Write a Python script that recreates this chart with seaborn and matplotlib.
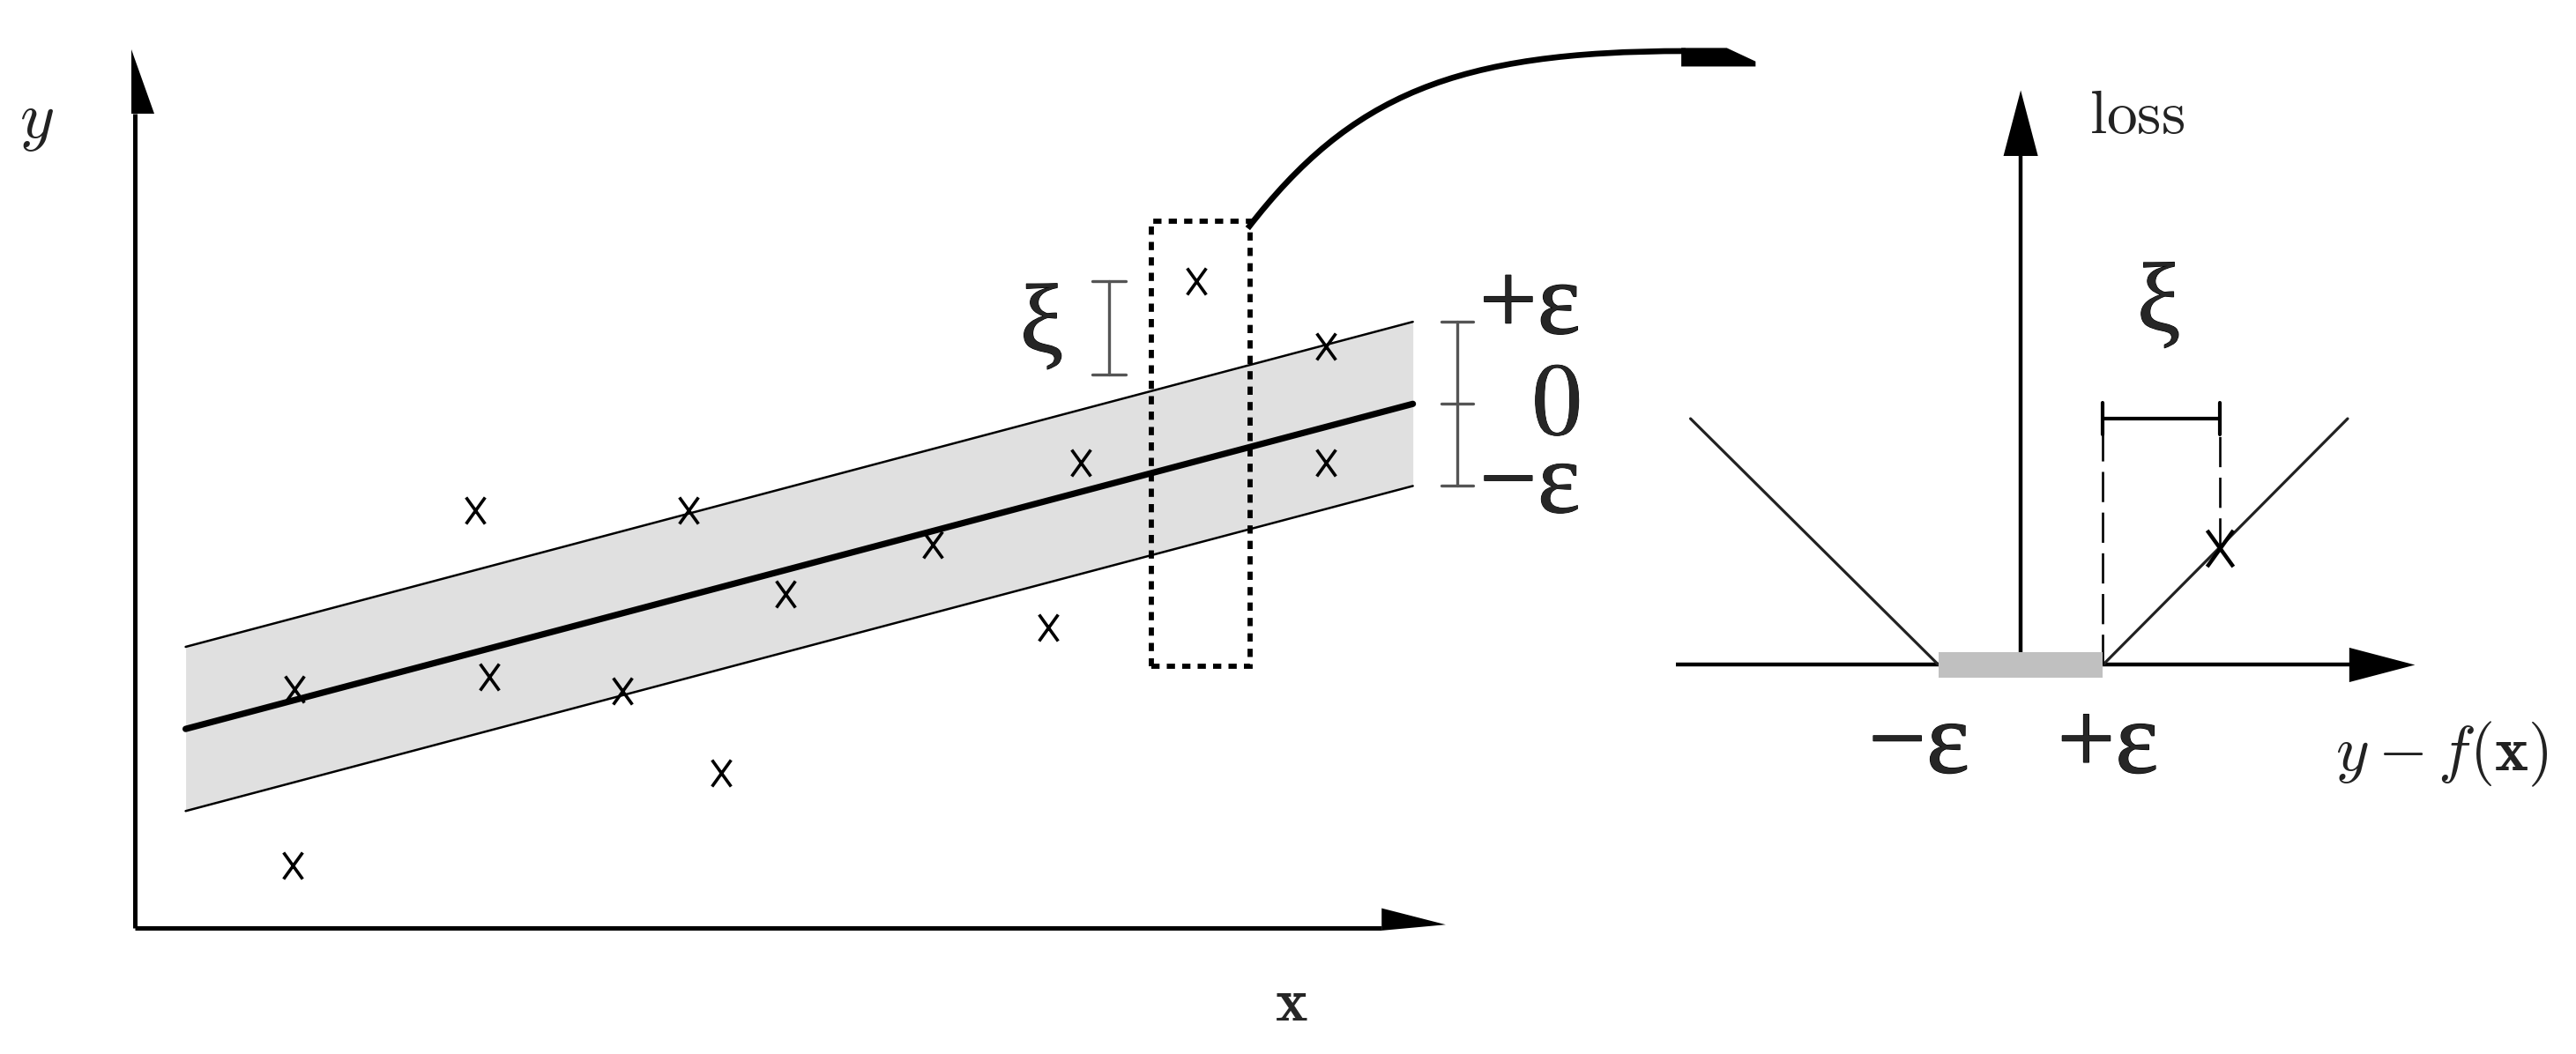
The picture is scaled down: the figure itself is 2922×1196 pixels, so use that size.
import numpy as np
import pandas as pd
import matplotlib
matplotlib.use("Agg")
import matplotlib.pyplot as plt
import matplotlib.patheffects as pe
import seaborn as sns
from matplotlib.path import Path
from matplotlib.patches import Polygon, PathPatch, Rectangle

# ---------------- data : left panel (epsilon-tube regression) ----------------
pts_x = [9.7, 20.7, 21.6, 29.7, 33.7, 39.6, 48.6, 35.7, 55.6, 57.6, 64.6, 72.5, 72.5, 9.6]
pts_y = [14.5, 25.4, 15.3, 14.4, 25.4, 20.3, 23.3, 9.4, 18.3, 28.3, 39.4, 35.4, 28.3, 3.8]
fit_x = [3.1, 77.8]
fit_y = [12.1, 31.9]
tube_upper = [17.1, 36.9]
tube_lower = [7.1, 26.9]
axis_x_end = 79.8
axis_y_end = 53.5
# ---------------- data : right panel (epsilon-insensitive loss) ----------------
loss_left_x = [-4.02, -1.0]
loss_left_y = [3.0, 0.0]
loss_right_x = [1.0, 3.98]
loss_right_y = [0.0, 3.0]
slack_pt_x = [2.42]
slack_pt_y = [1.42]
r_axis_x = [-4.2, 4.8]
r_axis_y_end = 7.0

sns.set_style("white")
plt.rcParams["mathtext.fontset"] = "cm"
plt.rcParams["font.family"] = ["DejaVu Sans"]
SERIF = ["Liberation Serif", "DejaVu Serif"]
bolden = [pe.withStroke(linewidth=0.9, foreground="black")]

W, H = 2922, 1196
SW, SH = 1568.0, 642.0
fig = plt.figure(figsize=(W / 100, H / 100), dpi=100)
fig.patch.set_facecolor("white")

# x mark shaped like a sans-serif letter "x"
xmark = Path([(-0.36, -0.5), (0.36, 0.5), (-0.36, 0.5), (0.36, -0.5)],
             [Path.MOVETO, Path.LINETO, Path.MOVETO, Path.LINETO])

# ------------------------------ left panel ------------------------------
xl, yl = (-8, 100), (-7, 57)
axL = fig.add_axes([(82 + 10 * xl[0]) / SW, (SH - (565 - 10 * yl[0])) / SH,
                    10 * (xl[1] - xl[0]) / SW, 10 * (yl[1] - yl[0]) / SH])
axL.set_xlim(*xl)
axL.set_ylim(*yl)
axL.axis("off")

axL.fill_between(fit_x, tube_lower, tube_upper, color="#e0e0e0", lw=0, zorder=1)
sns.lineplot(x=fit_x, y=tube_upper, ax=axL, color="black", lw=1.8, zorder=2)
sns.lineplot(x=fit_x, y=tube_lower, ax=axL, color="black", lw=1.8, zorder=2)
sns.lineplot(x=fit_x, y=fit_y, ax=axL, color="black", lw=5.2, zorder=3)
sns.scatterplot(x=pts_x, y=pts_y, ax=axL, marker=xmark, s=30 ** 2 * 0.52,
                color="black", edgecolor="black", linewidth=2.6, zorder=4)

# axes with half arrowheads
ah_len, ah_w = 3.9, 1.18
axL.plot([0, 0], [0, axis_y_end - ah_len], color="black", lw=3.6, solid_capstyle="butt")
axL.plot([0, axis_x_end - ah_len], [0, 0], color="black", lw=3.6, solid_capstyle="butt")
axL.add_patch(Polygon([(-0.18, axis_y_end), (-0.18, axis_y_end - ah_len),
                       (ah_w, axis_y_end - ah_len)], closed=True, color="black", lw=0))
axL.add_patch(Polygon([(axis_x_end, 0.18), (axis_x_end - ah_len, -0.18),
                       (axis_x_end - ah_len, ah_w)], closed=True, color="black", lw=0))
axL.text(-6.0, 49.1, r"$y$", fontsize=54, ha="center", va="center", color="#222222")
axL.text(70.4, -4.6, r"$\mathbf{x}$", fontsize=50, ha="center", va="center")

# dashed selection box
axL.add_patch(Rectangle((61.9, 15.9), 6.0, 27.1, fill=False, lw=4.2,
                        ls=(0, (1.6, 1.4)), color="black", zorder=5))

# xi bracket
brk = "#555555"
axL.plot([59.3, 59.3], [33.7, 39.4], color=brk, lw=2.4)
for yy in (33.7, 39.4):
    axL.plot([58.3, 60.3], [yy, yy], color=brk, lw=2.4)
axL.text(55.2, 36.5, "ξ", family=SERIF, fontsize=80, ha="center", va="center",
         path_effects=[pe.withStroke(linewidth=0.8, foreground="black")])

# epsilon bracket
axL.plot([80.5, 80.5], [26.9, 36.9], color=brk, lw=2.4)
for yy in (26.9, 31.9, 36.9):
    axL.plot([79.55, 81.45], [yy, yy], color=brk, lw=2.4)
axL.text(88.0, 36.2, "+ε", family=SERIF, fontsize=84, ha="right", va="baseline",
         path_effects=bolden)
axL.text(88.0, 25.3, "$0$\n\u2212ε", family=SERIF, fontsize=84, ha="right",
         multialignment="right", va="baseline", linespacing=0.79,
         path_effects=[pe.withStroke(linewidth=0.6, foreground="black")])

# curved arrow to the loss panel
curve = Path([(67.75, 42.59), (74.0, 50.7), (80.4, 53.39), (94.4, 53.39)],
             [Path.MOVETO, Path.CURVE4, Path.CURVE4, Path.CURVE4])
axL.add_patch(PathPatch(curve, fill=False, lw=4.8, color="black", capstyle="butt"))
axL.add_patch(Polygon([(94.14, 53.58), (96.91, 53.58), (98.66, 52.76), (98.66, 52.45),
                       (94.14, 52.45)], closed=True, color="black", lw=0))

# ------------------------------ right panel ------------------------------
xr, yr = (-4.5, 6.7), (-1.9, 7.3)
axR = fig.add_axes([(1230 + 50 * xr[0]) / SW, (SH - (405 - 50 * yr[0])) / SH,
                    50 * (xr[1] - xr[0]) / SW, 50 * (yr[1] - yr[0]) / SH])
axR.set_xlim(*xr)
axR.set_ylim(*yr)
axR.axis("off")

r_len, r_hw = 0.8, 0.21
axR.plot([r_axis_x[0], r_axis_x[1] - r_len], [0, 0], color="black", lw=3.2,
         solid_capstyle="butt", zorder=1)
axR.plot([0, 0], [0, r_axis_y_end - r_len], color="black", lw=3.2,
         solid_capstyle="butt", zorder=1)
axR.add_patch(Polygon([(r_axis_x[1], 0), (r_axis_x[1] - r_len, r_hw),
                       (r_axis_x[1] - r_len, -r_hw)], closed=True, color="black", lw=0))
axR.add_patch(Polygon([(0, r_axis_y_end), (-r_hw, r_axis_y_end - r_len),
                       (r_hw, r_axis_y_end - r_len)], closed=True, color="black", lw=0))
axR.fill_between([-1.0, 1.0], [-0.16, -0.16], [0.16, 0.16], color="#c0c0c0", lw=0, zorder=3)

sns.lineplot(x=loss_left_x, y=loss_left_y, ax=axR, color="#222222", lw=2.3, zorder=2)
sns.lineplot(x=loss_right_x, y=loss_right_y, ax=axR, color="#222222", lw=2.3, zorder=2)
sns.scatterplot(x=slack_pt_x, y=slack_pt_y, ax=axR, marker=xmark, s=40 ** 2 * 0.55,
                color="black", edgecolor="black", linewidth=3.2, zorder=4)

dash = (0, (13, 4.5))
axR.plot([1.0, 1.0], [0.0, 3.0], color="black", lw=1.9, ls=dash)
axR.plot([slack_pt_x[0]] * 2, [slack_pt_y[0], 3.0], color="black", lw=1.9, ls=dash)
axR.plot([1.0, slack_pt_x[0]], [3.0, 3.0], color="black", lw=3.0)
for xx in (1.0, slack_pt_x[0]):
    axR.plot([xx, xx], [2.81, 3.19], color="black", lw=3.0)
axR.text(1.68, 4.36, "ξ", family=SERIF, fontsize=80, ha="center", va="center",
         path_effects=[pe.withStroke(linewidth=0.8, foreground="black")])
axR.text(1.42, 6.48, r"$\mathrm{loss}$", fontsize=50, ha="center", va="baseline",
         color="#222222")
axR.text(-1.24, -1.31, "\u2212ε", family=SERIF, fontsize=84, ha="center",
         va="baseline", path_effects=bolden)
axR.text(1.06, -1.31, "+ε", family=SERIF, fontsize=84, ha="center",
         va="baseline", path_effects=bolden)
axR.text(5.12, -1.29, r"$y - f(\mathbf{x})$", fontsize=52, ha="center", va="baseline",
         color="#222222")

fig.savefig("out.png", dpi=100, facecolor="white")
